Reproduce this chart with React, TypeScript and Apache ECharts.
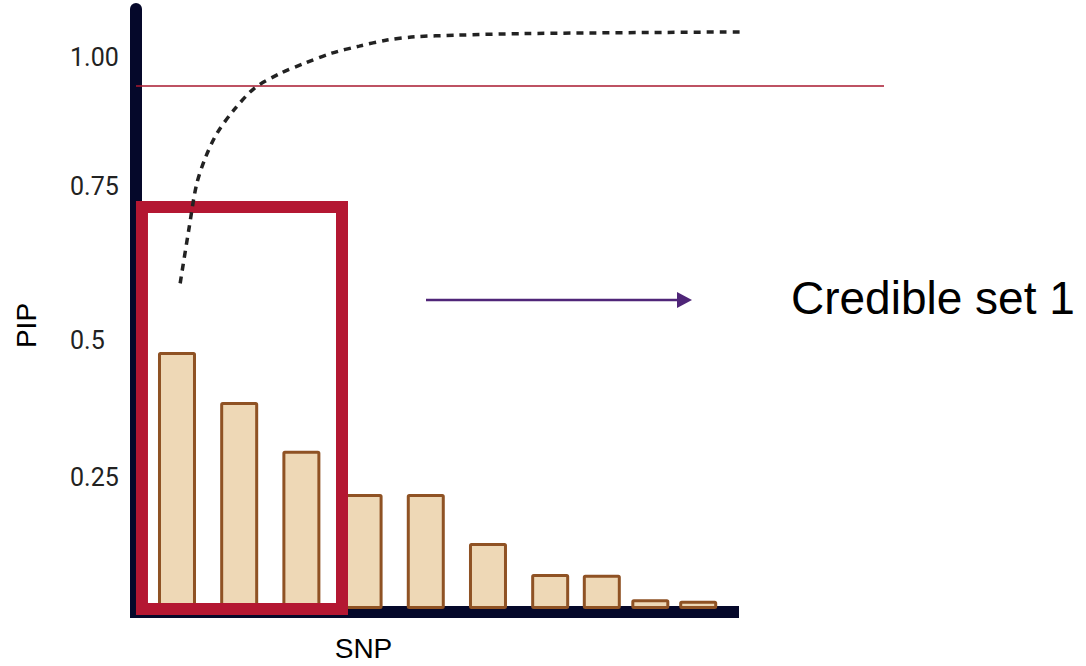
import React, { useEffect, useRef } from "react";
import * as echarts from "echarts";

// SNP positions (index units) and their PIP values
const snpPos = [1, 2, 3, 4, 5, 6, 7, 7.83, 8.61, 9.38];
const pipValues = [0.471, 0.3795, 0.29, 0.211, 0.211, 0.121, 0.064, 0.063, 0.018, 0.015];

// cumulative (dashed) curve
const curveX = [1.051, 1.198, 1.312, 1.452, 1.643, 1.916, 2.248, 2.661, 3.042, 3.487, 3.931, 4.376, 4.822, 5.489, 6.601, 10.066];
const curveY = [0.597, 0.701, 0.777, 0.826, 0.872, 0.915, 0.955, 0.982, 1.0, 1.019, 1.032, 1.043, 1.049, 1.052, 1.055, 1.058];

// y tick labels (as drawn) and where they sit on the axis
const yTickLabels = ["0.25", "0.5", "0.75", "1.00"];
const yTickAt = [0.242, 0.493, 0.7755, 1.012];

const threshold = 0.957;
const credibleSetX = [0.437, 3.653];
const credibleSetY = [0, 0.737];

const NAVY = "#05082a";
const RED = "#b41732";

function tickLabel(v: number): string {
  let best = 0;
  let d = Infinity;
  for (let i = 0; i < yTickAt.length; i++) {
    const dd = Math.abs(yTickAt[i] - v);
    if (dd < d) {
      d = dd;
      best = i;
    }
  }
  return d < 0.01 ? yTickLabels[best] : "";
}

export default function App() {
  const ref = useRef<HTMLDivElement>(null);
  useEffect(() => {
    if (!ref.current) return;
    const chart = echarts.init(ref.current, null, { renderer: "svg" });
    chart.setOption({
      animation: false,
      grid: {
        left: 136,
        right: 202,
        top: 9,
        bottom: 57,
        containLabel: false,
        outerBoundsMode: "none",
      },
      xAxis: {
        type: "value",
        min: 0.341,
        max: 12.367,
        axisLine: { show: false },
        axisTick: { show: false },
        axisLabel: { show: false },
        splitLine: { show: false },
      },
      yAxis: {
        type: "value",
        min: 0,
        max: 1.1,
        axisLine: { show: true, lineStyle: { color: NAVY, width: 12 } },
        axisTick: { show: false },
        splitLine: { show: false },
        axisLabel: {
          show: true,
          customValues: yTickAt,
          formatter: (v: number) => tickLabel(v),
          fontFamily: "Roboto",
          fontSize: 25,
          color: "#222",
          align: "left",
          margin: 66,
          showMinLabel: true,
          showMaxLabel: true,
        },
      },
      graphic: [
        {
          type: "rect",
          z: 1,
          shape: { x: 130, y: 606, width: 609, height: 12 },
          style: { fill: NAVY },
        },
        {
          type: "line",
          shape: { x1: 426, y1: 300, x2: 680, y2: 300 },
          style: { stroke: "#4f2578", lineWidth: 2.5 },
        },
        {
          type: "polygon",
          shape: { points: [[677, 292], [692, 300], [677, 308]] },
          style: { fill: "#4f2578" },
        },
        {
          type: "text",
          x: 791,
          y: 298,
          style: {
            text: "Credible set 1",
            font: "46px 'Liberation Sans', Arial, sans-serif",
            fill: "#000",
            align: "left",
            verticalAlign: "middle",
          },
        },
        {
          type: "text",
          x: 363.5,
          y: 648,
          style: {
            text: "SNP",
            font: "28px 'Liberation Sans', Arial, sans-serif",
            fill: "#000",
            align: "center",
            verticalAlign: "middle",
          },
        },
        {
          type: "text",
          x: 26.5,
          y: 325.5,
          rotation: Math.PI / 2,
          style: {
            text: "PIP",
            font: "28px 'Liberation Sans', Arial, sans-serif",
            fill: "#000",
            align: "center",
            verticalAlign: "middle",
          },
        },
      ],
      series: [
        {
          type: "bar",
          clip: false,
          z: 2,
          barWidth: 38,
          data: snpPos.map((x, i) => [x, pipValues[i]]),
          itemStyle: {
            color: "#eed8b6",
            borderColor: "#8f5224",
            borderWidth: 3,
            borderRadius: 1,
          },
          markLine: {
            silent: true,
            symbol: "none",
            label: { show: false },
            lineStyle: { color: "#a8182f", width: 1.5, type: "solid" },
            data: [{ yAxis: threshold }],
          },
          markArea: {
            silent: true,
            z: 5,
            label: { show: false },
            itemStyle: { color: "rgba(0,0,0,0)", borderColor: RED, borderWidth: 12 },
            data: [
              [
                { coord: [credibleSetX[0], credibleSetY[1]] },
                { coord: [credibleSetX[1], credibleSetY[0]] },
              ],
            ],
          },
        },
        {
          type: "line",
          z: 6,
          smooth: 0.3,
          showSymbol: false,
          clip: false,
          data: curveX.map((x, i) => [x, curveY[i]]),
          lineStyle: { color: "#222", width: 3.5, type: [7, 6] },
        },
      ],
    });
    return () => chart.dispose();
  }, []);
  return (
    <div
      ref={ref}
      style={{ position: "fixed", left: 0, top: 0, width: 1086, height: 666, background: "#fff" }}
    />
  );
}
